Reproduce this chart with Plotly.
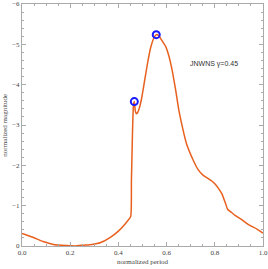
import plotly.graph_objects as go

period = [0.0, 0.047, 0.088, 0.13, 0.185, 0.22, 0.254, 0.29, 0.324, 0.365, 0.40, 0.427,
          0.451, 0.454, 0.458, 0.462, 0.466, 0.470, 0.474, 0.480, 0.487, 0.495, 0.506, 0.520,
          0.534, 0.548, 0.557, 0.568, 0.580, 0.596, 0.610, 0.624, 0.638, 0.651, 0.672,
          0.683, 0.711, 0.730, 0.752, 0.773, 0.790, 0.801, 0.815, 0.829, 0.845, 0.853,
          0.870, 0.884, 0.910, 0.946, 0.975, 1.0]
magnitude = [-0.31, -0.21, -0.11, -0.04, -0.01, 0.0, -0.02, -0.04, -0.08, -0.21, -0.37, -0.54,
             -0.73, -1.6, -2.7, -3.45, -3.58, -3.35, -3.28, -3.31, -3.42, -3.62, -4.00, -4.50,
             -4.92, -5.17, -5.24, -5.21, -5.10, -4.95, -4.70, -4.33, -3.85, -3.36, -2.78,
             -2.53, -2.12, -1.90, -1.75, -1.67, -1.60, -1.54, -1.43, -1.30, -1.05, -0.91,
             -0.83, -0.76, -0.66, -0.51, -0.42, -0.32]

peak_period = [0.466, 0.557]
peak_magnitude = [-3.58, -5.24]

label_text = "JNWNS \u03b3=0.45"

fig = go.Figure()
fig.add_trace(go.Scatter(x=period, y=magnitude, mode="lines",
                         line=dict(color="#E8601E", width=1.5, shape="spline", smoothing=0.4),
                         showlegend=False))
fig.add_trace(go.Scatter(x=peak_period, y=peak_magnitude, mode="markers",
                         marker=dict(symbol="circle-open", size=7, color="#1a1aff",
                                     line=dict(width=2, color="#1a1aff")),
                         showlegend=False))

axis_common = dict(showgrid=False, zeroline=False, showline=True, linecolor="#aaaaaa",
                   linewidth=1, mirror="ticks", ticks="inside", ticklen=4,
                   tickcolor="#aaaaaa", tickwidth=1, automargin=False,
                   ticklabeloverflow="allow",
                   tickfont=dict(family="Liberation Serif", size=7, color="#444444"))

fig.update_layout(
    width=268, height=269,
    margin=dict(l=22, r=5, t=4, b=23, autoexpand=False),
    paper_bgcolor="white", plot_bgcolor="white",
    xaxis=dict(range=[0, 1], dtick=0.2, tickformat=".1f",
               minor=dict(dtick=0.05, ticks="inside", ticklen=2, tickcolor="#aaaaaa"),
               **axis_common),
    yaxis=dict(range=[0, -6], dtick=1,
               minor=dict(dtick=0.2, ticks="inside", ticklen=2, tickcolor="#aaaaaa"),
               **axis_common),
    annotations=[
        dict(x=0.797, y=-4.52, xref="x", yref="y", text=label_text, showarrow=False,
             font=dict(family="Liberation Sans", size=7, color="#333333")),
        dict(x=0.5, y=-0.068, xref="paper", yref="paper", text="normalized period",
             showarrow=False, yanchor="middle",
             font=dict(family="Liberation Serif", size=7, color="#444444")),
        dict(x=-0.072, y=0.5, xref="paper", yref="paper", text="normalized magnitude",
             showarrow=False, textangle=-90, xanchor="center",
             font=dict(family="Liberation Serif", size=7, color="#444444")),
    ],
)

fig.write_html("out.html", config={"displayModeBar": False},
               post_script="document.body.style.margin='0';document.body.style.overflow='hidden';")
